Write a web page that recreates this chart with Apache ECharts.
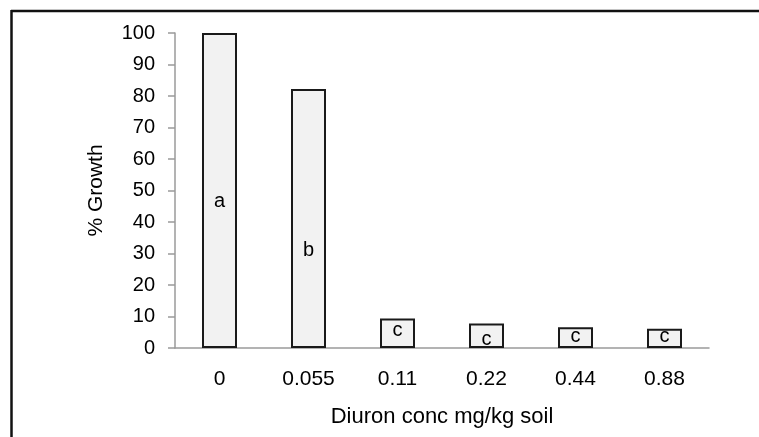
<!DOCTYPE html>
<html><head><meta charset="utf-8">
<script src="https://cdn.jsdelivr.net/npm/echarts@6/dist/echarts.min.js"></script>
<style>html,body{margin:0;padding:0;background:#fff}#c{width:759px;height:437px}</style>
</head><body><div id="c"></div>
<script>
const categories = ['0', '0.055', '0.11', '0.22', '0.44', '0.88'];
const growth = [100, 82.2, 9.4, 7.8, 6.6, 6.1];
const letters = ['a', 'b', 'c', 'c', 'c', 'c'];
const letterPos = [46.6, 31, 5.6, 2.8, 3.7, 3.5];
const yTicks = [0, 10, 20, 30, 40, 50, 60, 70, 80, 90, 100];

const chart = echarts.init(document.getElementById('c'), null, {renderer: 'canvas'});
const font = 'Liberation Sans, Arial, sans-serif';
chart.setOption({
  animation: false,
  grid: {left: 175, right: 50, top: 33, bottom: 89},
  xAxis: {
    type: 'category', data: categories,
    name: 'Diuron conc mg/kg soil', nameLocation: 'middle', nameGap: 58,
    nameTextStyle: {fontSize: 22, color: '#000', fontFamily: font},
    axisLine: {lineStyle: {color: '#9a9a9a', width: 1.5}},
    axisTick: {show: false},
    axisLabel: {fontSize: 21, color: '#000', fontFamily: font, margin: 21}
  },
  yAxis: {
    type: 'value', min: 0, max: 100, interval: 10,
    name: '% Growth', nameLocation: 'middle', nameGap: 68,
    nameTextStyle: {fontSize: 21, color: '#000', fontFamily: font},
    axisLine: {show: true, lineStyle: {color: '#9a9a9a', width: 1.5}},
    axisTick: {show: true, length: 7, lineStyle: {color: '#9a9a9a', width: 1.5}},
    splitLine: {show: false},
    axisLabel: {fontSize: 20, color: '#000', fontFamily: font, margin: 20,
      formatter: v => yTicks.includes(v) ? String(v) : ''}
  },
  series: [
    {
      type: 'bar', data: growth, barWidth: 35,
      itemStyle: {color: '#f2f2f2', borderColor: '#1a1a1a', borderWidth: 2}
    },
    {
      type: 'scatter', data: letterPos, symbolSize: 1,
      itemStyle: {color: 'rgba(0,0,0,0)', opacity: 1},
      label: {show: true, position: 'inside', fontSize: 20, color: '#000', opacity: 1, fontFamily: font,
        formatter: p => letters[p.dataIndex]},
      z: 5
    }
  ],
  graphic: [
    {type: 'line', shape: {x1: 11, y1: 11, x2: 759, y2: 11}, style: {stroke: '#111', lineWidth: 2.5}},
    {type: 'line', shape: {x1: 11.5, y1: 10, x2: 11.5, y2: 437}, style: {stroke: '#111', lineWidth: 2.5}}
  ]
});
</script></body></html>
